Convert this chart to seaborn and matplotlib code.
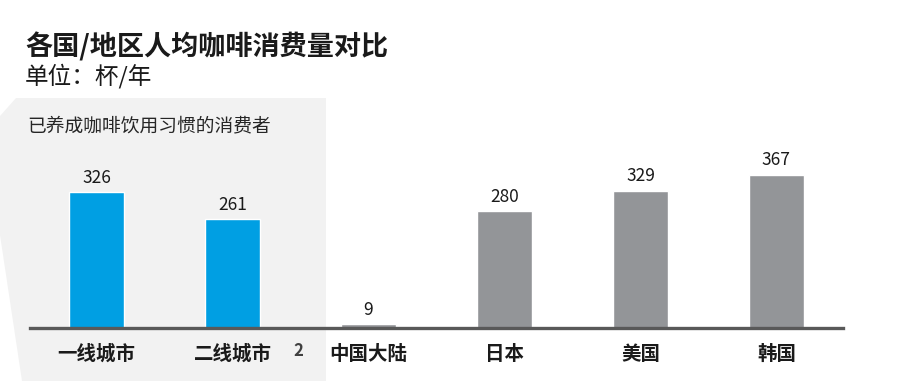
import matplotlib
matplotlib.use("Agg")
import matplotlib.pyplot as plt
from matplotlib.patches import Polygon
import seaborn as sns
import pandas as pd

categories = ["一线城市", "二线城市", "中国大陆", "日本", "美国", "韩国"]
values = [326, 261, 9, 280, 329, 367]
groups = ["已养成", "已养成", "其他", "其他", "其他", "其他"]
group_colors = {"已养成": "#009FE3", "其他": "#939598"}

title = "各国/地区人均咖啡消费量对比"
subtitle = "单位：杯/年"
panel_label = "已养成咖啡饮用习惯的消费者"
footnote_mark = "2"

sns.set_theme(style="white")
plt.rcParams["font.family"] = ["Noto Sans CJK SC", "DejaVu Sans"]

W, H = 899, 391
fig = plt.figure(figsize=(W / 100, H / 100), dpi=100)

def fx(px):
    return px / W

def fy(py):
    return 1 - py / H

# gray background panel
panel = Polygon(
    [(fx(16), fy(98)), (fx(326), fy(98)), (fx(326), fy(381)), (fx(22), fy(381)),
     (fx(0), fy(235)), (fx(0), fy(116))],
    closed=True, transform=fig.transFigure, facecolor="#F2F2F2", edgecolor="none", zorder=0)
fig.add_artist(panel)

ax = fig.add_axes([fx(30), fy(328), fx(843) - fx(30), (400 * 153 / 367) / H])
ax.patch.set_alpha(0)

df = pd.DataFrame({"cat": categories, "val": values, "grp": groups})
sns.barplot(data=df, x="cat", y="val", hue="grp", palette=group_colors, dodge=False,
            width=0.405, legend=False, ax=ax, saturation=1)

for cont in ax.containers:
    ax.bar_label(cont, fmt="%d", padding=4, fontsize=12.5, color="#1a1a1a")

ax.set_xlim(-0.49, 5.49)
ax.set_ylim(0, 400)
ax.set_xlabel("")
ax.set_ylabel("")
ax.set_yticks([])
for s in ["top", "left", "right"]:
    ax.spines[s].set_visible(False)
ax.spines["bottom"].set_color("#595959")
ax.spines["bottom"].set_linewidth(2.4)
ax.tick_params(axis="x", length=0, pad=12, labelsize=14, labelcolor="#1a1a1a")
for lbl in ax.get_xticklabels():
    lbl.set_fontweight("bold")

fig.text(fx(25), fy(47), title, fontsize=19.5, fontweight="bold", color="#1a1a1a", va="center", ha="left")
fig.text(fx(25), fy(76), subtitle, fontsize=17, color="#1a1a1a", va="center", ha="left")
fig.text(fx(27), fy(126), panel_label, fontsize=13.5, color="#262626", va="center", ha="left",
         style="italic")
fig.text(fx(298), fy(351), footnote_mark, fontsize=12, fontweight="bold", color="#404040",
         va="center", ha="center")

fig.savefig("out.png", dpi=100, facecolor="white")
